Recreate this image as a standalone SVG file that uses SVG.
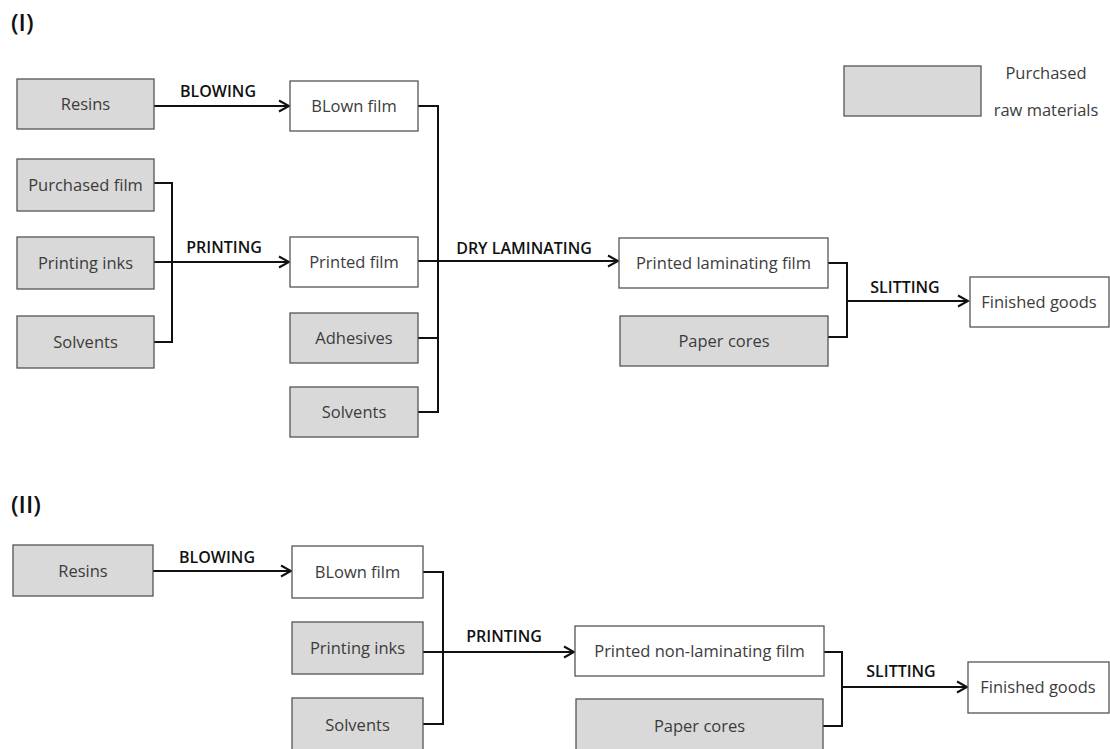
<svg xmlns="http://www.w3.org/2000/svg" width="1110" height="749" viewBox="0 0 1110 749">
<style>
.raw{fill:#d9d9d9;stroke:#555;stroke-width:1.3}
.prod{fill:#fff;stroke:#555;stroke-width:1.3}
.t{font-family:"Open Sans","Noto Sans",sans-serif;font-size:16.5px;fill:#3c3c3c;text-anchor:middle}
.lab{font-family:"Open Sans","Noto Sans",sans-serif;font-size:16px;font-weight:600;fill:#111;text-anchor:middle}
.sec{font-family:"Open Sans","Noto Sans",sans-serif;font-size:24px;font-weight:600;fill:#111}
.c{fill:none;stroke:#111;stroke-width:2}
.a{fill:none;stroke:#111;stroke-width:2;marker-end:url(#arr)}
</style>
<defs>
<marker id="arr" markerUnits="userSpaceOnUse" markerWidth="14" markerHeight="14" viewBox="0 0 14 14" refX="12" refY="7" orient="auto">
<path d="M2,1.5 L12,7 L2,12.5" fill="none" stroke="#111" stroke-width="2"/>
</marker>
</defs>
<rect width="1110" height="749" fill="#fff"/>
<text class="sec" x="11" y="31">(I)</text>
<text class="sec" x="11" y="513">(II)</text>

<g id="legend">
<rect class="raw" x="844" y="66" width="137" height="50"/>
<text class="t" x="1046" y="79">Purchased</text>
<text class="t" x="1046" y="116">raw materials</text>
</g>

<g id="connectors">
<path class="a" d="M154,106 H289"/>
<path class="c" d="M154,183 H172 V342 H154"/>
<path class="a" d="M154,262 H289"/>
<path class="c" d="M418,106 H438 V412 H418"/>
<path class="c" d="M418,338 H438"/>
<path class="a" d="M418,261 H618"/>
<path class="c" d="M828,263 H847 V337 H828"/>
<path class="a" d="M847,301 H968"/>
<path class="a" d="M153,571 H291"/>
<path class="c" d="M423,572 H443 V724 H423"/>
<path class="a" d="M423,652 H574"/>
<path class="c" d="M824,652 H842 V726 H823"/>
<path class="a" d="M842,687 H967"/>
<text class="lab" x="218" y="97">BLOWING</text>
<text class="lab" x="224" y="253">PRINTING</text>
<text class="lab" x="524" y="254">DRY LAMINATING</text>
<text class="lab" x="905" y="293">SLITTING</text>
<text class="lab" x="217" y="563">BLOWING</text>
<text class="lab" x="504" y="642">PRINTING</text>
<text class="lab" x="901" y="677">SLITTING</text>
</g>

<g id="n1-resins"><rect class="raw" x="17" y="79" width="137" height="50"/><text class="t" x="85.5" y="110">Resins</text></g>
<g id="n1-blown"><rect class="prod" x="290" y="81" width="128" height="50"/><text class="t" x="354" y="112">BLown film</text></g>
<g id="n1-purchased"><rect class="raw" x="17" y="159" width="137" height="52"/><text class="t" x="85.5" y="191">Purchased film</text></g>
<g id="n1-inks"><rect class="raw" x="17" y="237" width="137" height="52"/><text class="t" x="85.5" y="269">Printing inks</text></g>
<g id="n1-solvents"><rect class="raw" x="17" y="316" width="137" height="52"/><text class="t" x="85.5" y="348">Solvents</text></g>
<g id="n1-printed"><rect class="prod" x="290" y="237" width="128" height="50"/><text class="t" x="354" y="268">Printed film</text></g>
<g id="n1-adhesives"><rect class="raw" x="290" y="313" width="128" height="50"/><text class="t" x="354" y="344">Adhesives</text></g>
<g id="n1-solvents2"><rect class="raw" x="290" y="387" width="128" height="50"/><text class="t" x="354" y="418">Solvents</text></g>
<g id="n1-laminating"><rect class="prod" x="619" y="238" width="209" height="50"/><text class="t" x="723.5" y="269">Printed laminating film</text></g>
<g id="n1-cores"><rect class="raw" x="620" y="316" width="208" height="50"/><text class="t" x="724" y="347">Paper cores</text></g>
<g id="n1-finished"><rect class="prod" x="970" y="277" width="139" height="50"/><text class="t" x="1039" y="308">Finished goods</text></g>

<g id="n2-resins"><rect class="raw" x="13" y="545" width="140" height="51"/><text class="t" x="83" y="577">Resins</text></g>
<g id="n2-blown"><rect class="prod" x="292" y="546" width="131" height="52"/><text class="t" x="357.5" y="578">BLown film</text></g>
<g id="n2-inks"><rect class="raw" x="292" y="622" width="131" height="52"/><text class="t" x="357.5" y="654">Printing inks</text></g>
<g id="n2-solvents"><rect class="raw" x="292" y="698" width="131" height="56"/><text class="t" x="357.5" y="731">Solvents</text></g>
<g id="n2-nonlam"><rect class="prod" x="575" y="626" width="249" height="50"/><text class="t" x="699.5" y="657">Printed non-laminating film</text></g>
<g id="n2-cores"><rect class="raw" x="576" y="699" width="247" height="55"/><text class="t" x="699.5" y="732">Paper cores</text></g>
<g id="n2-finished"><rect class="prod" x="968" y="662" width="141" height="51"/><text class="t" x="1038" y="693">Finished goods</text></g>
</svg>
